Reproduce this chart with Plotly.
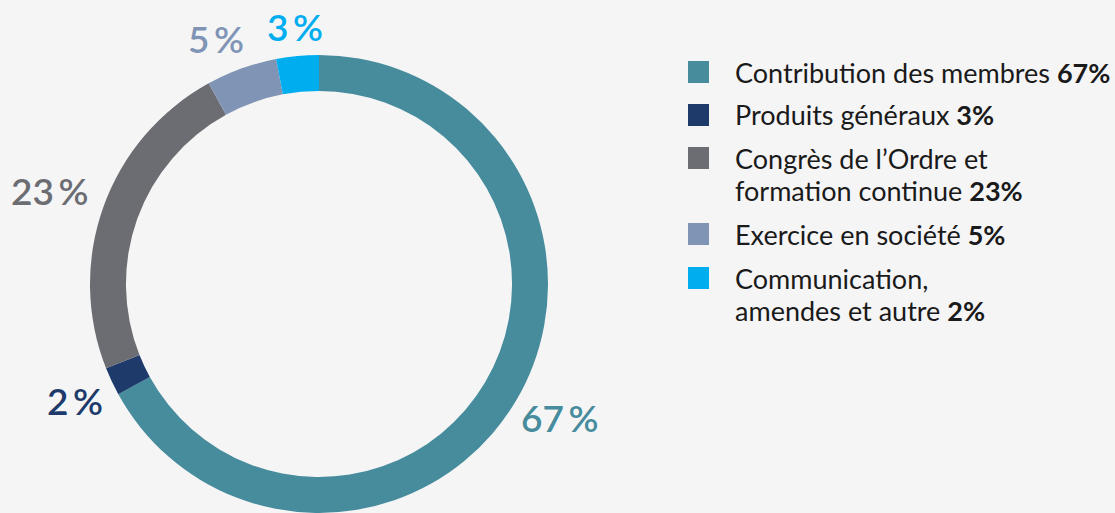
import plotly.graph_objects as go

categories = ["Contribution des membres", "Produits généraux", "Congrès de l’Ordre et formation continue",
              "Exercice en société", "Communication, amendes et autre"]
values = [67, 2, 23, 5, 3]
slice_labels = ["67\u2009%", "2\u2009%", "23\u2009%", "5\u2009%", "3\u2009%"]
legend_lines = [["Contribution des membres <b>67%</b>"],
                ["Produits généraux <b>3%</b>"],
                ["Congrès de l’Ordre et", "formation continue <b>23%</b>"],
                ["Exercice en société <b>5%</b>"],
                ["Communication,", "amendes et autre <b>2%</b>"]]
colors = ["#478c9c", "#1d3a6b", "#6c6d72", "#8095b5", "#00aeef"]

W, H = 1115, 513
fig = go.Figure()
fig.add_trace(go.Pie(
    labels=categories, values=values, sort=False, direction="clockwise", rotation=0,
    hole=0.843, marker=dict(colors=colors, line=dict(width=0)),
    textinfo="none", hoverinfo="label+percent", showlegend=False,
    domain=dict(x=[90 / W, 548 / W], y=[0, 458 / H]),
))

# slice value labels (pixel positions)
label_pos = [(560, 417), (75, 400), (50, 190), (216, 38), (295, 27)]
for (px, py), txt, c in zip(label_pos, slice_labels, colors):
    fig.add_annotation(x=px / W, y=1 - py / H, xref="paper", yref="paper", text=txt,
                       showarrow=False, font=dict(family="Lato", size=37, color=c, weight=600),
                       xanchor="center", yanchor="middle")

# custom legend
sq_y = [72, 115, 158, 234, 278]
line_h = 32
for i, (lines, c) in enumerate(zip(legend_lines, colors)):
    y0 = sq_y[i]
    fig.add_shape(type="rect", xref="paper", yref="paper",
                  x0=688 / W, x1=709 / W, y0=1 - (y0 - 11) / H, y1=1 - (y0 + 11) / H,
                  fillcolor=c, line=dict(width=0))
    for j, ln in enumerate(lines):
        fig.add_annotation(x=733 / W, y=1 - (y0 + j * line_h) / H, xref="paper", yref="paper",
                           text=ln, showarrow=False, xanchor="left", yanchor="middle",
                           font=dict(family="Lato", size=27, color="#1a1a1a"))

fig.update_layout(width=W, height=H, margin=dict(l=0, r=0, t=0, b=0),
                  paper_bgcolor="#f5f5f6", plot_bgcolor="#f5f5f6")
fig.write_html("out.html", config={"displayModeBar": False},
               post_script="document.body.style.margin='0';document.body.style.overflow='hidden';")
